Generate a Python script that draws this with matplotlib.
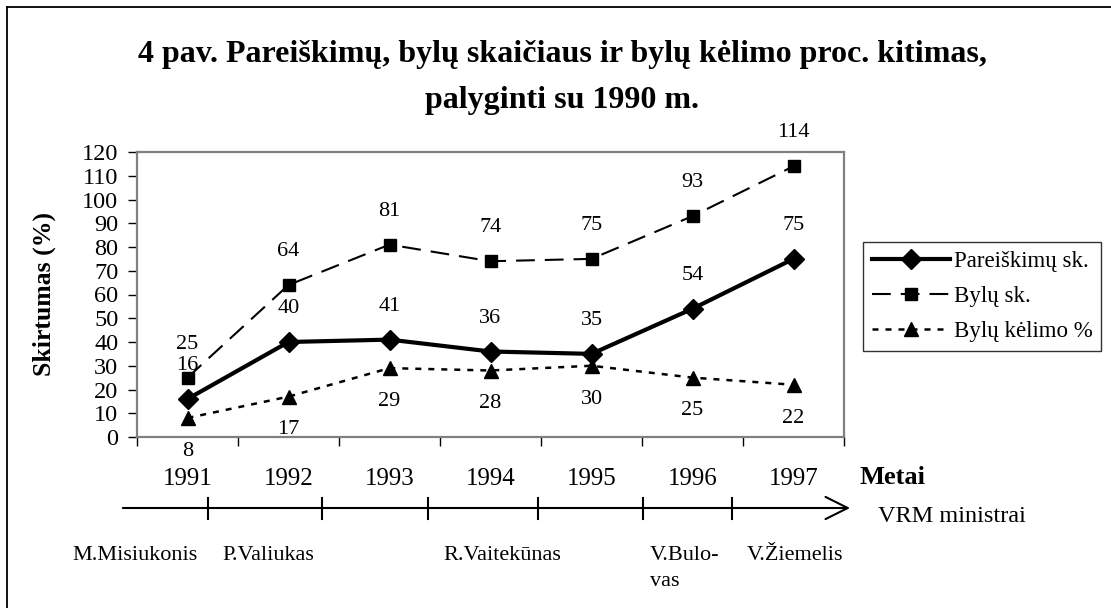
import matplotlib
matplotlib.use("Agg")
import matplotlib.pyplot as plt
from matplotlib.transforms import blended_transform_factory
from matplotlib.lines import Line2D

# ---- data ----
years = ["1991", "1992", "1993", "1994", "1995", "1996", "1997"]
pareiskimu = [16, 40, 41, 36, 35, 54, 75]
bylu = [25, 64, 81, 74, 75, 93, 114]
bylu_kelimo = [8, 17, 29, 28, 30, 25, 22]
series_names = ["Pareiškimų sk.", "Bylų sk.", "Bylų kėlimo %"]
ministers = ["M.Misiukonis", "P.Valiukas", "R.Vaitekūnas", "V.Bulo-\nvas", "V.Žiemelis"]
y_ticks = list(range(0, 121, 10))

plt.rcParams['font.family'] = ['Liberation Serif', 'DejaVu Serif']

W, H = 1111, 608
fig = plt.figure(figsize=(W / 100, H / 100), dpi=100)

def fx(px):
    return px / W

def fy(py):
    return 1 - py / H

ax = fig.add_axes([fx(137), fy(437), fx(844) - fx(137), fy(152) - fy(437)])
x = list(range(len(years)))

l1, = ax.plot(x, pareiskimu, color='black', lw=3, marker='D', markersize=10,
              solid_joinstyle='miter', label=series_names[0], clip_on=False)
l2, = ax.plot(x, bylu, color='black', lw=1.5, linestyle=(0, (9, 4.8)),
              marker='s', markersize=8.5, label=series_names[1], clip_on=False)
l3, = ax.plot(x, bylu_kelimo, color='black', lw=1.8, linestyle=(0, (2.4, 2.8)),
              marker='^', markersize=10.5, label=series_names[2], clip_on=False)

lab_fs = 16
for xi, v in zip(x, pareiskimu):
    ax.annotate(str(v), (xi, v), xytext=(0, 24), textcoords='offset points',
                ha='center', va='center', fontsize=lab_fs, annotation_clip=False)
for xi, v in zip(x, bylu):
    ax.annotate(str(v), (xi, v), xytext=(0, 24), textcoords='offset points',
                ha='center', va='center', fontsize=lab_fs, annotation_clip=False)
for xi, v in zip(x, bylu_kelimo):
    ax.annotate(str(v), (xi, v), xytext=(0, -24), textcoords='offset points',
                ha='center', va='center', fontsize=lab_fs, annotation_clip=False)

ax.set_xlim(-0.5, len(years) - 0.5)
ax.set_ylim(0, 120)
ax.set_yticks(y_ticks)
ax.tick_params(axis='y', labelsize=17.5, length=6.5, width=1, pad=7, direction='out')
ax.set_xticks([i - 0.5 for i in range(len(years) + 1)])
ax.set_xticklabels([])
ax.set_xticks(x, minor=True)
ax.set_xticklabels(years, minor=True)
ax.tick_params(axis='x', which='major', length=6.5, width=1, direction='out')
ax.tick_params(axis='x', which='minor', length=0, labelsize=18, pad=22)
for s in ax.spines.values():
    s.set_color('#808080')
    s.set_linewidth(1.6)

ax.set_ylabel("Skirtumas (%)", fontsize=18.5, fontweight='bold')
ax.yaxis.set_label_coords((56 - 137) / 707, 0.5)

# title
fig.text(fx(562), fy(62), "4 pav. Pareiškimų, bylų skaičiaus ir bylų kėlimo proc. kitimas,",
         ha='center', va='baseline', fontsize=23, fontweight='bold')
fig.text(fx(562), fy(108), "palyginti su 1990 m.",
         ha='center', va='baseline', fontsize=23, fontweight='bold')

# axis names right of chart
fig.text(fx(860), fy(477), "Metai", ha='left', va='center', fontsize=19, fontweight='bold')
fig.text(fx(878), fy(517), "VRM ministrai", ha='left', va='center', fontsize=17.5)

# timeline of ministers
trans = blended_transform_factory(ax.transData, fig.transFigure)
arrow_y = fy(508)
ax.annotate('', xy=(6.56, arrow_y), xytext=(-0.64, arrow_y), xycoords=trans, textcoords=trans,
            arrowprops=dict(arrowstyle='->,head_length=0.8,head_width=0.4', lw=1.5,
                            color='black', shrinkA=0, shrinkB=0, mutation_scale=20),
            annotation_clip=False)
for tx in [0.203, 1.332, 2.381, 3.470, 4.510, 5.391]:
    fig.add_artist(Line2D([tx, tx], [fy(498), fy(519)], transform=trans, color='black', lw=1.5))
for name, nx in zip(ministers, [-1.14, 0.35, 2.53, 4.58, 5.54]):
    ax.text(nx, fy(546), name, transform=trans, ha='left', va='top', fontsize=16,
            linespacing=1.5)

# legend
leg = fig.legend(handles=[l1, l2, l3], loc='upper left',
                 bbox_to_anchor=(fx(863), fy(242)), borderaxespad=0,
                 fontsize=16.5, frameon=True, fancybox=False, edgecolor='black',
                 handlelength=3.4, handletextpad=0.15, labelspacing=0.6,
                 borderpad=0.4, numpoints=1)
leg.get_frame().set_linewidth(1.0)

# outer frame (top and left visible)
fig.add_artist(Line2D([fx(7), 1.0], [fy(7), fy(7)], transform=fig.transFigure, color='black', lw=1.3))
fig.add_artist(Line2D([fx(7), fx(7)], [fy(7), 0.0], transform=fig.transFigure, color='black', lw=1.3))

fig.savefig("out.png", dpi=100)
